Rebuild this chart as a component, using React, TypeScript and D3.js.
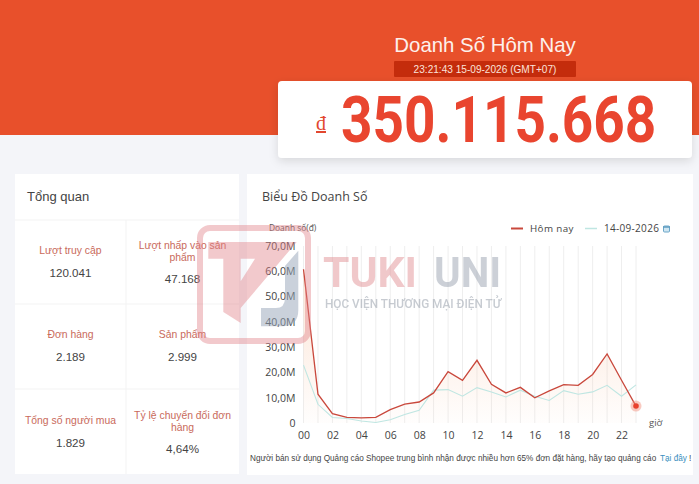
import { useEffect, useRef } from 'react';
import * as d3 from 'd3';

const hours = d3.range(24).map((hour) => String(hour).padStart(2, '0'));
const todayValues = [60.8, 11.4, 3.7, 2.2, 2.0, 2.2, 5.3, 7.5, 8.3, 11.9, 20.3, 16.9, 24.8, 15.3, 11.9, 14.1, 10.0, 12.7, 15.2, 14.9, 19.2, 27.3, 16.9, 6.7];
const yesterdayValues = [22.9, 7.4, 2.2, 1.8, 0.8, 0.2, 1.3, 3.4, 5.0, 13.0, 13.2, 10.6, 14.0, 12.3, 10.3, 13.0, 10.6, 8.9, 12.8, 11.4, 12.3, 14.9, 10.6, 15.1];
const yTicks = [0, 10, 20, 30, 40, 50, 60, 70];

const metricLabels = [
  ['Lượt truy cập'],
  ['Lượt nhấp vào sản', 'phẩm'],
  ['Đơn hàng'],
  ['Sản phẩm'],
  ['Tổng số người mua'],
  ['Tỷ lệ chuyển đổi đơn', 'hàng'],
];
const metricValues = ['120.041', '47.168', '2.189', '2.999', '1.829', '4,64%'];

const WIDTH = 699;
const HEIGHT = 484;
const FONT = '"Liberation Sans", Arial, sans-serif';
const CHART_FONT = '"Open Sans", "Noto Sans", sans-serif';
const ORANGE = '#e8502b';
const RED = '#c9483c';
const TEAL = '#bfe6e2';

const App = () => {
  const ref = useRef<SVGSVGElement | null>(null);

  useEffect(() => {
    if (!ref.current) return;

    const svg = d3.select(ref.current);
    svg.selectAll('*').remove();

    const addText = (
      parent: d3.Selection<any, any, any, any>,
      text: string,
      x: number,
      y: number,
      size: number,
      fill: string,
      anchor = 'start',
      family = FONT,
    ) =>
      parent
        .append('text')
        .attr('x', x)
        .attr('y', y)
        .attr('font-size', size)
        .attr('fill', fill)
        .attr('text-anchor', anchor)
        .attr('font-family', family)
        .text(text);

    const defs = svg.append('defs');
    const shadow = defs.append('filter').attr('id', 'cardShadow').attr('x', '-5%').attr('y', '-20%').attr('width', '110%').attr('height', '150%');
    shadow.append('feDropShadow').attr('dx', 0).attr('dy', 3).attr('stdDeviation', 5).attr('flood-color', '#000').attr('flood-opacity', 0.12);

    const gradient = defs.append('linearGradient').attr('id', 'todayFill').attr('x1', 0).attr('x2', 0).attr('y1', 0).attr('y2', 1);
    gradient.append('stop').attr('offset', '0%').attr('stop-color', '#f6b78f').attr('stop-opacity', 0.38);
    gradient.append('stop').attr('offset', '100%').attr('stop-color', '#f6b78f').attr('stop-opacity', 0.02);

    // page and header
    svg.append('rect').attr('width', WIDTH).attr('height', HEIGHT).attr('fill', '#f4f5f9');
    svg.append('rect').attr('width', WIDTH).attr('height', 135).attr('fill', ORANGE);

    addText(svg, 'Doanh Số Hôm Nay', 485, 52, 20.4, '#fdf1ec', 'middle');
    svg.append('rect').attr('x', 394).attr('y', 61).attr('width', 182).attr('height', 16).attr('rx', 1).attr('fill', '#c42c0c');
    addText(svg, '23:21:43 15-09-2026 (GMT+07)', 485, 73, 10.1, '#fbe3da', 'middle');

    svg.append('rect').attr('x', 278).attr('y', 81).attr('width', 414).attr('height', 77).attr('rx', 4).attr('fill', '#fff').attr('filter', 'url(#cardShadow)');
    addText(svg, 'đ', 321, 130, 20, '#e2472f', 'middle', '"Liberation Serif", serif').attr('text-decoration', 'underline');
    // the original digits are a condensed face, so squeeze Roboto sideways
    addText(svg, '350.115.668', 0, 0, 64, '#e9452f', 'start', 'Roboto, sans-serif')
      .attr('transform', 'translate(341,142) scale(0.858,1)')
      .attr('font-weight', 700);

    // overview card
    svg.append('rect').attr('x', 15).attr('y', 174).attr('width', 224).attr('height', 300).attr('fill', '#fff');
    addText(svg, 'Tổng quan', 27, 201, 13, '#444');

    const rowLines = [220, 304, 389];
    svg.append('g').selectAll('line').data(rowLines).enter().append('line')
      .attr('x1', 15).attr('x2', 239).attr('y1', (d) => d).attr('y2', (d) => d).attr('stroke', '#f3f3f3');
    svg.append('line').attr('x1', 126).attr('x2', 126).attr('y1', 220).attr('y2', 474).attr('stroke', '#f3f3f3');

    metricLabels.forEach((lines, index) => {
      const cx = index % 2 === 0 ? 70.5 : 182.5;
      const row = Math.floor(index / 2);
      const top = [254, 338, 424][row];
      const labelY = lines.length === 1 ? top : top - 5.5;
      lines.forEach((line, lineIndex) => {
        addText(svg, line, cx, labelY + lineIndex * 12, 10.4, '#c96a5b', 'middle');
      });
      addText(svg, metricValues[index], cx, lines.length === 1 ? top + 23 : top + 29, 11.6, '#444', 'middle');
    });

    // chart card
    svg.append('rect').attr('x', 247).attr('y', 174).attr('width', 446).attr('height', 301).attr('fill', '#fff');
    addText(svg, 'Biểu Đồ Doanh Số', 262, 201, 12.5, '#444', 'start', CHART_FONT);

    const margin = { top: 246, right: 63, bottom: 61, left: 303.5 };
    const xScale = d3.scalePoint<string>().domain(hours).range([margin.left, WIDTH - margin.right]);
    const yScale = d3.scaleLinear().domain([0, 70]).range([HEIGHT - margin.bottom, margin.top]);
    const xOf = (index: number) => xScale(hours[index]) ?? 0;

    const chart = svg.append('g');

    chart.append('g').selectAll('line').data(hours).enter().append('line')
      .attr('x1', (d) => xScale(d) ?? 0)
      .attr('x2', (d) => xScale(d) ?? 0)
      .attr('y1', yScale(70))
      .attr('y2', yScale(0))
      .attr('stroke', '#eeeeee');

    const area = d3.area<number>().x((_, i) => xOf(i)).y0(yScale(0)).y1((d) => yScale(d));
    const line = d3.line<number>().x((_, i) => xOf(i)).y((d) => yScale(d));

    chart.append('path').attr('d', area(todayValues)).attr('fill', 'url(#todayFill)');
    chart.append('path').attr('d', line(yesterdayValues)).attr('fill', 'none').attr('stroke', TEAL).attr('stroke-width', 1.1);
    chart.append('path').attr('d', line(todayValues)).attr('fill', 'none').attr('stroke', RED).attr('stroke-width', 1.3);

    const lastX = xOf(todayValues.length - 1);
    const lastY = yScale(todayValues[todayValues.length - 1]);
    chart.append('circle').attr('cx', lastX).attr('cy', lastY).attr('r', 5.5).attr('fill', '#f28a75').attr('opacity', 0.45);
    chart.append('circle').attr('cx', lastX).attr('cy', lastY).attr('r', 2.8).attr('fill', '#e8402c');

    const yAxis = chart.append('g')
      .attr('transform', `translate(${margin.left},0)`)
      .call(d3.axisLeft(yScale).tickValues(yTicks).tickSize(0).tickPadding(8).tickFormat((d) => (+d === 0 ? '0' : `${(+d).toFixed(1).replace('.', ',')}M`)));
    yAxis.select('.domain').remove();
    yAxis.selectAll('text').attr('font-size', 10.5).attr('font-family', CHART_FONT).attr('fill', '#444');

    const xAxis = chart.append('g')
      .attr('transform', `translate(0,${yScale(0)})`)
      .call(d3.axisBottom(xScale).tickValues(hours.filter((_, i) => i % 2 === 0)).tickSize(0).tickPadding(9));
    xAxis.select('.domain').remove();
    xAxis.selectAll('text').attr('font-size', 10.5).attr('font-family', CHART_FONT).attr('fill', '#444');

    addText(svg, 'Doanh số(đ)', 269, 231, 8.4, '#555', 'start', CHART_FONT);
    addText(svg, 'giờ', 649, 426, 9.5, '#555', 'start', CHART_FONT);

    // legend
    svg.append('line').attr('x1', 511).attr('x2', 523).attr('y1', 228.5).attr('y2', 228.5).attr('stroke', RED).attr('stroke-width', 2);
    addText(svg, 'Hôm nay', 530, 232, 9.8, '#444', 'start', CHART_FONT).attr('letter-spacing', 0.4);
    svg.append('line').attr('x1', 585).attr('x2', 597).attr('y1', 228.5).attr('y2', 228.5).attr('stroke', TEAL).attr('stroke-width', 1.5);
    addText(svg, '14-09-2026', 604, 232, 10, '#444', 'start', CHART_FONT).attr('letter-spacing', 0.3);
    svg.append('rect').attr('x', 663.5).attr('y', 226).attr('width', 6).attr('height', 6).attr('rx', 1).attr('fill', '#cfe6f2').attr('stroke', '#6ba6c8').attr('stroke-width', 1);
    svg.append('line').attr('x1', 663).attr('x2', 670).attr('y1', 227).attr('y2', 227).attr('stroke', '#5f9cc0').attr('stroke-width', 1.5);

    // footer note
    addText(svg, 'Người bán sử dụng Quảng cáo Shopee trung bình nhận được nhiều hơn 65% đơn đặt hàng, hãy tạo quảng cáo', 250, 461, 8.2, '#444');
    addText(svg, 'Tại đây', 660, 461, 8.2, '#3a8fc0');
    addText(svg, '!', 689, 461, 8.2, '#444');

    // watermark
    const mark = svg.append('g').attr('pointer-events', 'none');
    mark.append('rect').attr('x', 200).attr('y', 228).attr('width', 108).attr('height', 113).attr('rx', 10).attr('fill', 'none').attr('stroke', '#e07f85').attr('stroke-width', 6).attr('opacity', 0.42);
    mark.append('path')
      .attr('d', 'M208.3 242 H296.7 L240.7 308 V323 L223.3 312 V258.7 H208.3 Z M240.7 258.7 H255 L240.7 281.3 Z')
      .attr('fill-rule', 'evenodd')
      .attr('fill', '#e07f85')
      .attr('opacity', 0.42);
    mark.append('path').attr('d', 'M298.3 250.7 V310 Q298.3 326.3 282 326.3 H261 V308 H276 Q285 308 285 298 V266 Z').attr('fill', '#96a3b8').attr('opacity', 0.5);
    addText(mark, 'TUKI', 323, 287, 42, '#e0868b', 'start', '"Roboto", sans-serif').attr('font-weight', 700).attr('opacity', 0.45).attr('textLength', 94).attr('lengthAdjust', 'spacingAndGlyphs');
    addText(mark, 'UNI', 434, 287, 42, '#8f99a8', 'start', '"Roboto", sans-serif').attr('font-weight', 700).attr('opacity', 0.45).attr('textLength', 67).attr('lengthAdjust', 'spacingAndGlyphs');
    addText(mark, 'HỌC VIỆN THƯƠNG MẠI ĐIỆN TỬ', 325, 308, 13, '#9aa2ad', 'start', '"Roboto", sans-serif').attr('font-weight', 500).attr('opacity', 0.55).attr('textLength', 176).attr('lengthAdjust', 'spacingAndGlyphs');
  }, []);

  return (
    <svg
      ref={ref}
      width={WIDTH}
      height={HEIGHT}
      viewBox={`0 0 ${WIDTH} ${HEIGHT}`}
      style={{ position: 'absolute', left: 0, top: 0, display: 'block' }}
      role="img"
      aria-label="Doanh số hôm nay"
    />
  );
};

export default App;
